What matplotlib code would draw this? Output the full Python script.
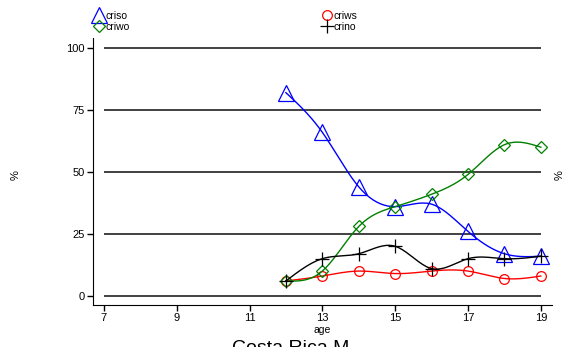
import numpy as np
import matplotlib
matplotlib.use("Agg")
import matplotlib.pyplot as plt

plt.rcParams['font.family'] = ['Liberation Sans', 'DejaVu Sans']

age = [12, 13, 14, 15, 16, 17, 18, 19]
criso = [82, 66, 44, 36, 37, 26, 17, 16]
criws = [6, 8, 10, 9, 10, 10, 7, 8]
criwo = [6, 10, 28, 36, 41, 49, 61, 60]
crino = [6, 15, 17, 20, 11, 15, 15, 16]

xticks = [7, 9, 11, 13, 15, 17, 19]
yticks = [0, 25, 50, 75, 100]


def smooth(x, y, n=20):
    # natural cubic spline through the points, for the connecting curve
    x = np.asarray(x, float)
    y = np.asarray(y, float)
    k = len(x)
    h = np.diff(x)
    A = np.zeros((k, k))
    b = np.zeros(k)
    A[0, 0] = A[-1, -1] = 1
    for i in range(1, k - 1):
        A[i, i - 1] = h[i - 1]
        A[i, i] = 2 * (h[i - 1] + h[i])
        A[i, i + 1] = h[i]
        b[i] = 6 * ((y[i + 1] - y[i]) / h[i] - (y[i] - y[i - 1]) / h[i - 1])
    m = np.linalg.solve(A, b)
    xs, ys = [], []
    for i in range(k - 1):
        t = np.linspace(x[i], x[i + 1], n, endpoint=False)
        a = x[i + 1] - t
        c = t - x[i]
        s = (m[i] * a**3 + m[i + 1] * c**3) / (6 * h[i]) \
            + (y[i] / h[i] - m[i] * h[i] / 6) * a \
            + (y[i + 1] / h[i] - m[i + 1] * h[i] / 6) * c
        xs.extend(t)
        ys.extend(s)
    xs.append(x[-1])
    ys.append(y[-1])
    return np.array(xs), np.array(ys)


fig = plt.figure(figsize=(5.7, 3.47), dpi=100)
ax = fig.add_axes([0.163, 0.121, 0.805, 0.769])

ax.hlines(yticks, 7, 19, color='#333333', lw=1.3, zorder=0)

series = [
    (criso, 'blue', '^', 12, 'criso'),
    (criws, 'red', 'o', 7, 'criws'),
    (criwo, 'green', 'D', 6, 'criwo'),
    (crino, 'black', '+', 10, 'crino'),
]
handles = {}
for vals, col, mk, ms, name in series:
    sx, sy = smooth(age, vals)
    ax.plot(sx, sy, color=col, lw=1.0)
    h, = ax.plot(age, vals, ls='none', marker=mk, ms=ms, mfc='none',
                 mec=col, mew=0.9, label=name)
    handles[name] = h

ax.set_xlim(6.7, 19.3)
ax.set_ylim(-3.7, 104)
ax.set_xticks(xticks)
ax.set_yticks(yticks)
ax.tick_params(labelsize=8, length=4, width=1, pad=2)
ax.spines['top'].set_visible(False)
ax.spines['right'].set_visible(False)
ax.set_xlabel('age', fontsize=7.5, labelpad=1)
fig.text(0.027, 0.495, '%', rotation=90, fontsize=8, ha='center', va='center')
fig.text(0.982, 0.495, '%', rotation=90, fontsize=8, ha='center', va='center')
fig.text(0.51, -0.03, 'Costa Rica M', fontsize=14, ha='center', va='bottom')

# legend filled column-wise: criso/criwo on the left, criws/crino on the right
order = ['criso', 'criwo', 'criws', 'crino']
leg = fig.legend([handles[k] for k in order], order,
                 ncol=2, loc='upper left', bbox_to_anchor=(0.15, 0.995),
                 frameon=False, fontsize=7.5, handlelength=0.8, handletextpad=0.2,
                 columnspacing=18.6, labelspacing=0.05)

fig.savefig('out.png', dpi=100)
